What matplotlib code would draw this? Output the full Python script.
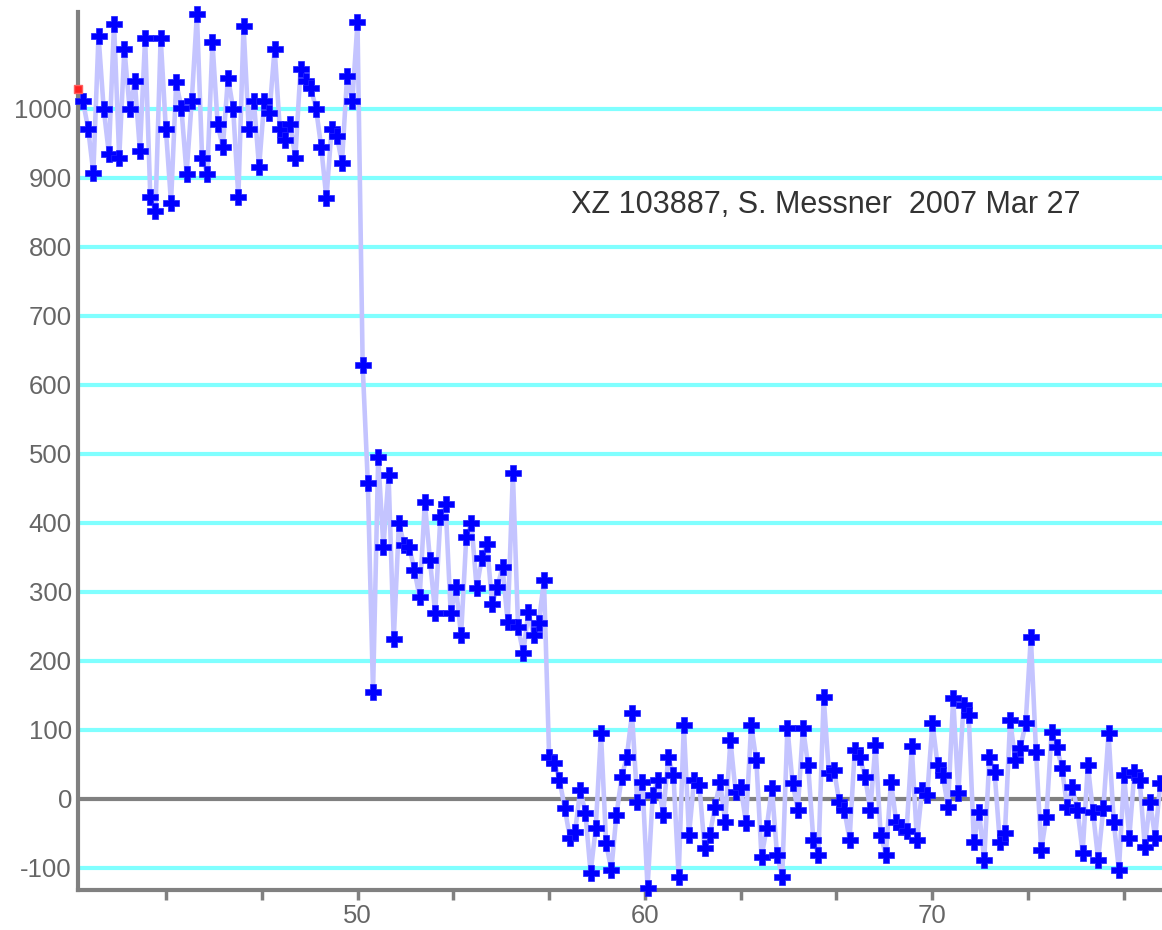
import matplotlib
matplotlib.use("Agg")
import matplotlib.pyplot as plt
import numpy as np

# ---------------- data ----------------
# primary-star plateau
seg_primary = [1011, 971, 907, 1106, 1000, 935, 1123, 929, 1087, 1000, 1040, 939,
               1103, 872, 852, 1103, 971, 864, 1038, 1001, 906, 1011, 1137, 929,
               906, 1096, 978, 944, 1045, 1000, 872, 1120, 971, 1011, 915, 1011,
               994, 1087, 971, 954, 978, 929, 1058, 1040, 1030, 1000, 944, 870,
               971, 961, 922, 1048, 1011, 1125]
# first step
seg_step1 = [628]
# companion plateau
seg_companion = [457, 155, 495, 365, 469, 231, 400, 368, 365, 331, 292, 430, 346,
                 269, 408, 427, 269, 307, 237, 379, 400, 305, 349, 369, 282, 307,
                 336, 256, 472, 249, 211, 271, 237, 255, 317]
# background after full disappearance
seg_background = [61, 52, 28, -13, -56, -48, 13, -20, -107, -42, 96, -64, -103, -23,
                  32, 61, 124, -4, 25, -129, 6, 28, -23, 60, 35, -113, 107, -52, 28,
                  20, -71, -52, -12, 25, -33, 85, 10,
                  17, -35, 107, 56, -84, -42, 16, -81, -113, 103, 23, -16, 103, 49,
                  -59, -81, 148, 38, 42, -4, -16, -59, 71, 60, 32, -16, 78, -52, -81,
                  25, -33, -40, -47, 76, -59, 13, 6,
                  110, 49, 35, -12, 146, 9, 136, 122, -62, -19, -88, 61, 39, -62, -49,
                  114, 56, 74, 110, 235, 68, -74, -26, 97, 75, 45, -12, 17, -16, -78,
                  49, -19, -88, -13, 95, -33, -103, 35, -56, 39, 28, -69, -4, -56, 23]

T_START = 40.44     # time of first sample
T_STEP = 0.1803     # sampling interval

red_t = [40.25]
red_v = [1028]

Y_TICKS = [-100, 0, 100, 200, 300, 400, 500, 600, 700, 800, 900, 1000]
X_LABELED = [50, 60, 70]
X_MINOR = [43.333, 46.667, 53.333, 56.667, 63.333, 66.667, 73.333, 76.667]

TITLE = "XZ 103887, S. Messner  2007 Mar 27"

flux = np.array(seg_primary + seg_step1 + seg_companion + seg_background, dtype=float)
t = T_START + T_STEP * np.arange(len(flux))

# ---------------- figure ----------------
plt.rcParams['font.family'] = ['Liberation Sans', 'DejaVu Sans']

fig = plt.figure(figsize=(11.62, 9.30), dpi=100)
ax = fig.add_axes([0.0667, 0.043, 0.9333, 0.944])
ax.set_xlim(40.25, 78.0)
ax.set_ylim(-132, 1140)

for v in Y_TICKS:
    if v == 0:
        ax.axhline(v, color='#808080', lw=3.0, zorder=1.2)
    else:
        ax.axhline(v, color='#80ffff', lw=3.0, zorder=1)

ax.plot(t, flux, color='#c4c4ff', lw=3.3, zorder=2, solid_capstyle='butt')
ax.plot(t, flux, ls='none', marker='P', ms=11, mfc='#0000ff', mec='#2020ff',
        mew=0.5, zorder=4, clip_on=False)
ax.plot(red_t, red_v, ls='none', marker='s', ms=6, mfc='#ff2020', mec='#ff6060',
        mew=1, zorder=5, clip_on=False)

for s in ['top', 'right']:
    ax.spines[s].set_visible(False)
for s in ['left', 'bottom']:
    ax.spines[s].set_color('#808080')
    ax.spines[s].set_linewidth(3.0)
    ax.spines[s].set_zorder(3)

ax.set_yticks(Y_TICKS)
ax.set_yticklabels([str(v) for v in Y_TICKS])
ax.tick_params(axis='y', length=0, pad=4, labelcolor='#666666', labelsize=18.5)

ax.set_xticks(X_LABELED)
ax.set_xticklabels([str(v) for v in X_LABELED])
ax.set_xticks(X_MINOR, minor=True)
ax.tick_params(axis='x', which='both', direction='out', length=7, width=2.5,
               color='#808080', pad=3, labelcolor='#666666', labelsize=18.5)

ax.text(66.3, 860, TITLE, ha='center', va='center', fontsize=22, color='#333333')

fig.savefig('out.png', dpi=100)
